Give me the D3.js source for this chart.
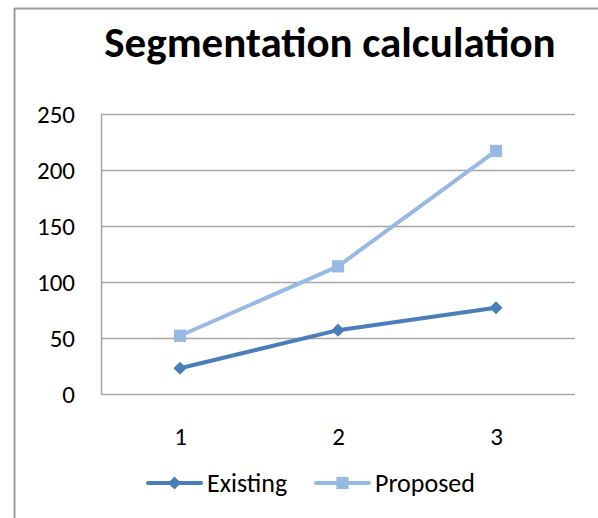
<!DOCTYPE html>
<html>
<head>
<meta charset="utf-8">
<script src="https://cdn.jsdelivr.net/npm/d3@7"></script>
<style>
  html, body { margin: 0; padding: 0; background: #fff; }
  svg { display: block; font-family: Carlito, Calibri, "Open Sans", "Liberation Sans", sans-serif; }
</style>
</head>
<body>
<script>
// Chart data
const categories = ["1", "2", "3"];
const existing = [23, 57, 77];
const proposed = [52, 114, 217];
const yTicks = [0, 50, 100, 150, 200, 250];
const seriesNames = ["Existing", "Proposed"];
const seriesColors = ["#4a7ebb", "#98b9e3"];

const W = 598, H = 518;
const FONT = "Carlito, Calibri, 'Open Sans', 'Liberation Sans', sans-serif";
const svg = d3.select("body").append("svg").attr("width", W).attr("height", H);

// Chart frame (only the top and left edges fall inside the view)
svg.append("line").attr("x1", 14.5).attr("x2", W).attr("y1", 8.5).attr("y2", 8.5)
  .attr("stroke", "#9a9a9a").attr("stroke-width", 2);
svg.append("line").attr("x1", 14.5).attr("x2", 14.5).attr("y1", 8).attr("y2", H)
  .attr("stroke", "#9a9a9a").attr("stroke-width", 2);

// Title
svg.append("text").attr("x", 330).attr("y", 57).attr("text-anchor", "middle")
  .attr("font-size", 43).attr("font-weight", "bold").attr("fill", "#000")
  .text("Segmentation calculation");

const plot = { left: 101, right: 575, top: 114, bottom: 394 };
const x = d3.scalePoint().domain(categories).range([plot.left, plot.right]).padding(0.5);
const y = d3.scaleLinear().domain([0, 250]).range([plot.bottom, plot.top]);

// Horizontal gridlines
svg.append("g").selectAll("line").data(yTicks).join("line")
  .attr("x1", plot.left).attr("x2", plot.right)
  .attr("y1", d => Math.round(y(d)) + 0.5).attr("y2", d => Math.round(y(d)) + 0.5)
  .attr("stroke", "#a6a6a6").attr("stroke-width", 1.5);

// Vertical axis line
svg.append("line").attr("x1", plot.left + 0.5).attr("x2", plot.left + 0.5)
  .attr("y1", plot.top).attr("y2", plot.bottom + 0.5)
  .attr("stroke", "#a6a6a6").attr("stroke-width", 1.5);

// Y tick labels
const yAxis = d3.axisLeft(y).tickValues(yTicks).tickSize(0).tickPadding(26);
const gy = svg.append("g").attr("transform", `translate(${plot.left},0)`).call(yAxis);
gy.select(".domain").remove();
gy.attr("font-size", 25).attr("font-family", FONT);
gy.selectAll("text").attr("fill", "#000");

// X tick labels
const xAxis = d3.axisBottom(x).tickSize(0).tickPadding(33);
const gx = svg.append("g").attr("transform", `translate(0,${plot.bottom})`).call(xAxis);
gx.select(".domain").remove();
gx.attr("font-size", 25).attr("font-family", FONT);
gx.selectAll("text").attr("fill", "#000");

const line = d3.line().x((d, i) => x(categories[i])).y(d => y(d));
const diamond = d3.symbol().type(d3.symbolDiamond2).size(110);
const square = d3.symbol().type(d3.symbolSquare2).size(190);

function drawSeries(values, color, sym) {
  svg.append("path").datum(values).attr("d", line)
    .attr("fill", "none").attr("stroke", color).attr("stroke-width", 4)
    .attr("stroke-linejoin", "round").attr("stroke-linecap", "round");
  svg.append("g").selectAll("path").data(values).join("path")
    .attr("transform", (d, i) => `translate(${x(categories[i])},${y(d)})`)
    .attr("d", sym).attr("fill", color);
}
drawSeries(existing, seriesColors[0], diamond);
drawSeries(proposed, seriesColors[1], square);

// Legend
const legendY = 483;
const legendItems = [
  { x: 148, name: seriesNames[0], color: seriesColors[0], sym: diamond },
  { x: 316, name: seriesNames[1], color: seriesColors[1], sym: square }
];
const lg = svg.append("g").selectAll("g").data(legendItems).join("g")
  .attr("transform", d => `translate(${d.x},${legendY})`);
lg.append("line").attr("x1", 0).attr("x2", 53).attr("y1", 0).attr("y2", 0)
  .attr("stroke", d => d.color).attr("stroke-width", 4).attr("stroke-linecap", "round");
lg.append("path").attr("transform", "translate(26.5,0)").attr("d", d => d.sym()).attr("fill", d => d.color);
lg.append("text").attr("x", 59).attr("y", 9).attr("font-size", 26).attr("fill", "#000")
  .text(d => d.name);
</script>
</body>
</html>
